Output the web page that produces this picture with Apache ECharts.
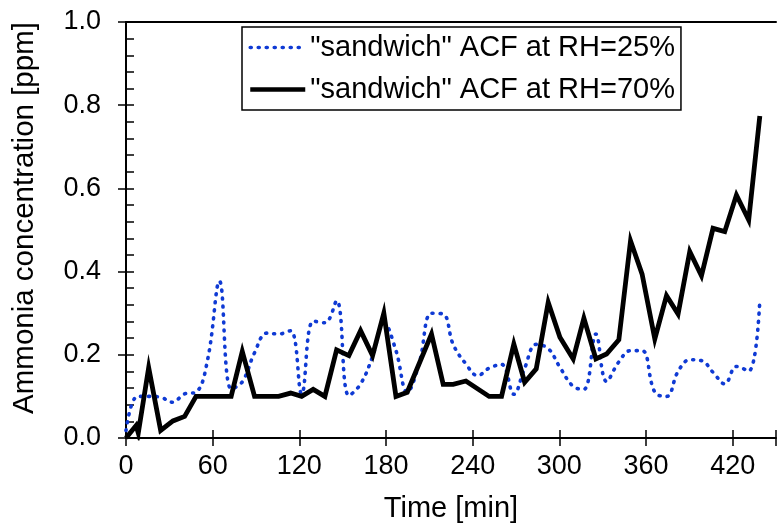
<!DOCTYPE html>
<html>
<head>
<meta charset="utf-8">
<script src="https://cdn.jsdelivr.net/npm/echarts@6/dist/echarts.min.js"></script>
<style>
html,body{margin:0;padding:0;background:#fff;}
#chart{width:779px;height:528px;}
</style>
</head>
<body>
<div id="chart"></div>
<script>
// ---- data ----
const seriesNames = ['"sandwich" ACF at RH=25%', '"sandwich" ACF at RH=70%'];

const timeRH25 = [0, 8, 16, 24, 32, 40.6, 48.5, 56.6, 64.7, 72.8, 80.5, 89, 97.5, 105.7, 114, 121.6, 129.6, 137.7, 145.8, 154.3, 162.4, 170.7, 178.5, 186.9, 194.7, 203, 211.5, 219.6, 226.5, 235.3, 243.5, 251.4, 260, 268.5, 276, 284, 292.3, 300.4, 309.6, 317, 325.3, 332.7, 341.2, 349.3, 357.3, 366.1, 374.2, 382.2, 390.3, 398.4, 406.4, 414.5, 422.6, 431.1, 438.8];
const concRH25 = [0.018, 0.1, 0.1, 0.098, 0.086, 0.106, 0.11, 0.19, 0.377, 0.118, 0.135, 0.205, 0.252, 0.25, 0.258, 0.106, 0.281, 0.277, 0.33, 0.102, 0.13, 0.196, 0.278, 0.21, 0.11, 0.18, 0.3, 0.298, 0.225, 0.178, 0.15, 0.168, 0.177, 0.105, 0.168, 0.225, 0.215, 0.17, 0.124, 0.117, 0.25, 0.136, 0.183, 0.21, 0.21, 0.11, 0.1, 0.16, 0.188, 0.186, 0.158, 0.13, 0.172, 0.161, 0.332];

const timeRH70 = [0, 7, 8.5, 15.7, 24, 32.5, 40.6, 48.5, 56.6, 64.7, 72.8, 80.5, 89, 97.5, 105.7, 114, 121.6, 129.6, 137.7, 145.8, 154.3, 162.4, 170.7, 178.5, 186.9, 194.7, 211.5, 219.6, 226.5, 235.3, 251.4, 260, 268.5, 276, 284, 292.3, 300.4, 309.6, 317, 325.3, 332.7, 341.2, 349.3, 357.3, 366.1, 374.2, 382.2, 390.3, 398.4, 406.4, 414.5, 422.6, 431.1, 438.8];
const concRH70 = [0.0, 0.03, 0.012, 0.169, 0.018, 0.041, 0.052, 0.1, 0.1, 0.1, 0.1, 0.208, 0.1, 0.1, 0.1, 0.108, 0.1, 0.117, 0.1, 0.212, 0.198, 0.258, 0.198, 0.3, 0.1, 0.11, 0.25, 0.129, 0.129, 0.137, 0.1, 0.1, 0.226, 0.134, 0.166, 0.326, 0.242, 0.19, 0.288, 0.19, 0.202, 0.236, 0.474, 0.394, 0.238, 0.342, 0.298, 0.448, 0.39, 0.504, 0.496, 0.584, 0.524, 0.774];

const xTicks = [0, 60, 120, 180, 240, 300, 360, 420];
const yTicks = [0.0, 0.2, 0.4, 0.6, 0.8, 1.0];
const xTitle = 'Time [min]';
const yTitle = 'Ammonia concentration [ppm]';

// ---- chart ----
const FONT = '"Liberation Sans", Arial, sans-serif';
const BLUE = '#0f3ad4';
const pairs = (xs, ys) => xs.map((x, i) => [x, ys[i]]);

const chart = echarts.init(document.getElementById('chart'), null, {renderer: 'canvas'});
const axisLineStyle = {color: '#000', width: 2};

chart.setOption({
  animation: false,
  backgroundColor: '#fff',
  grid: {left: 126, right: 3, top: 22, bottom: 90, containLabel: false},
  legend: {
    orient: 'vertical',
    left: 242, top: 27,
    data: [
      {name: seriesNames[0], itemStyle: {opacity: 0}, lineStyle: {color: BLUE, width: 3.6, type: [1, 7], cap: 'round'}},
      {name: seriesNames[1], itemStyle: {opacity: 0}, lineStyle: {color: '#000', width: 4.5}}
    ],
    backgroundColor: '#fff',
    borderColor: '#000', borderWidth: 1.5,
    padding: [6, 6, 6, 6],
    itemGap: 13,
    itemWidth: 55, itemHeight: 14,
    textStyle: {fontFamily: FONT, fontSize: 29, color: '#000'}
  },
  xAxis: [
    {
      type: 'value', min: 0, max: 450, interval: 60, position: 'bottom',
      name: xTitle, nameLocation: 'middle', nameGap: 56,
      nameTextStyle: {fontFamily: FONT, fontSize: 29, color: '#000'},
      axisLine: {show: true, lineStyle: axisLineStyle},
      axisTick: {show: true, inside: false, length: 8, lineStyle: {color: '#000', width: 1.5}},
      axisLabel: {fontFamily: FONT, fontSize: 27, color: '#000', margin: 15,
        formatter: v => xTicks.includes(v) ? String(v) : ''},
      splitLine: {show: false}
    },
    {
      type: 'value', min: 0, max: 450, interval: 60, position: 'bottom',
      axisLine: {show: false},
      axisTick: {show: true, inside: true, length: 8, lineStyle: {color: '#000', width: 1.5}},
      axisLabel: {show: false}, splitLine: {show: false}
    },
    {
      type: 'value', min: 0, max: 450, position: 'top',
      axisLine: {show: true, lineStyle: axisLineStyle},
      axisTick: {show: false}, axisLabel: {show: false}, splitLine: {show: false}
    }
  ],
  yAxis: [
    {
      type: 'value', min: 0, max: 1, interval: 0.2, position: 'left',
      name: yTitle, nameLocation: 'middle', nameGap: 86, nameRotate: 90,
      nameTextStyle: {fontFamily: FONT, fontSize: 29.5, color: '#000', padding: [0, 0, 0, 24]},
      axisLine: {show: true, lineStyle: axisLineStyle},
      axisTick: {show: true, inside: false, length: 8, lineStyle: {color: '#000', width: 1.5}},
      axisLabel: {fontFamily: FONT, fontSize: 27, color: '#000', margin: 25,
        formatter: v => yTicks.some(t => Math.abs(t - v) < 1e-9) ? v.toFixed(1) : ''},
      splitLine: {show: false}
    },
    {
      type: 'value', min: 0, max: 1, interval: 0.2, position: 'left',
      axisLine: {show: false},
      axisTick: {show: true, inside: true, length: 8, lineStyle: {color: '#000', width: 1.5}},
      minorTick: {show: true, splitNumber: 5, length: 8, lineStyle: {color: '#000', width: 1.5}},
      axisLabel: {show: false}, splitLine: {show: false}
    }
  ],
  series: [
    {
      name: seriesNames[0], type: 'line', xAxisIndex: 0, yAxisIndex: 0,
      data: pairs(timeRH25, concRH25),
      smooth: 0.4, symbol: 'none', showSymbol: false,
      lineStyle: {color: BLUE, width: 3.6, type: [1, 7], cap: 'round'},
      itemStyle: {color: BLUE},
      z: 2
    },
    {
      name: seriesNames[1], type: 'line', xAxisIndex: 0, yAxisIndex: 0,
      data: pairs(timeRH70, concRH70),
      smooth: false, symbol: 'none', showSymbol: false,
      lineStyle: {color: '#000', width: 4.8, join: 'miter'},
      itemStyle: {color: '#000'},
      z: 3
    }
  ]
});
</script>
</body>
</html>
